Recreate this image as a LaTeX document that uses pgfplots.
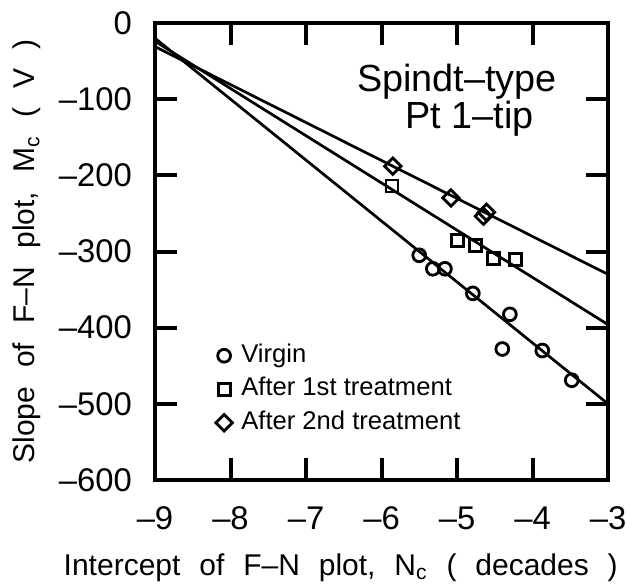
\documentclass[border=0pt]{standalone}
\usepackage{pgfplots}
\pgfplotsset{compat=1.18}
\usepackage{fontspec}
\setmainfont{Liberation Sans}
\newcommand\ws{\hspace{0.63em}}
\begin{document}
\begin{tikzpicture}
\begin{axis}[
  name=ax,
  scale only axis, width=226.5pt, height=228.5pt,
  xmin=-9, xmax=-3, ymin=-600, ymax=0,
  every axis/.append style={line width=2.4pt},
  axis line style={line width=2.4pt},
  xtick={-9,-8,-7,-6,-5,-4,-3},
  xticklabels={–9,–8,–7,–6,–5,–4,–3},
  ytick={-600,-500,-400,-300,-200,-100,0},
  yticklabels={–600,–500,–400,–300,–200,–100,0},
  tick align=inside, major tick length=11pt,
  tick style={line width=2pt, black},
  tick label style={font=\fontsize{16.4}{18}\selectfont},
  xticklabel style={yshift=-9pt},
  yticklabel style={xshift=-7pt},
  xlabel={Intercept\ws of\ws F–N\ws plot,\ws N\textsubscript{c}\ws(\ws decades\ws)},
  ylabel={Slope\ws of\ws F–N\ws plot,\ws M\textsubscript{c}\ws(\ws V\ws)},
  xlabel style={at={(axis description cs:0.41,-0.208)}, anchor=base, font=\fontsize{15}{17}\selectfont},
  ylabel style={at={(axis description cs:-0.265,0.5)}, anchor=base, font=\fontsize{15}{17}\selectfont},
  legend style={draw=none, fill=none, inner sep=0pt, at={(axis cs:-8.225,-413.6)}, anchor=north west,
    font=\fontsize{12.8}{15}\selectfont, row sep=1.45pt,
    nodes={inner sep=1.5pt, text height=9.5pt, text depth=2.8pt},
    /tikz/every odd column/.append style={column sep=3pt},
    /tikz/every even column/.append style={column sep=1.25pt}},
  legend cell align=left,
  legend image code/.code={\draw[mark repeat=2,mark phase=2,#1] plot coordinates {(0cm,0cm) (0.15cm,0cm) (0.3cm,0cm)};},
]
\addplot[line width=1.35pt, forget plot] coordinates {(-9,-20) (-3,-500)};
\addplot[line width=1.35pt, forget plot] coordinates {(-9,-24) (-3,-396)};
\addplot[line width=1.35pt, forget plot] coordinates {(-9,-31) (-3,-330)};
\addplot[only marks, mark=o, mark size=3.2pt, mark options={line width=1.4pt, fill=white}] coordinates {
  (-5.50,-305) (-5.32,-322.7) (-5.16,-322.7) (-4.79,-355) (-4.30,-382.5) (-4.40,-428) (-3.87,-430) (-3.48,-469)};
\addlegendentry{Virgin}
\addplot[only marks, mark=square, mark size=3.0pt, mark options={line width=1.4pt, fill=white}] coordinates {
  (-5.86,-214) (-4.99,-285.2) (-4.76,-291.7) (-4.52,-309.6) (-4.23,-310.5)};
\addlegendentry{After 1st treatment}
\addplot[only marks, mark=square, mark size=2.9pt, mark options={line width=1.4pt, fill=white, rotate=45}] coordinates {
  (-5.85,-188) (-5.08,-229.7) (-4.65,-253.7) (-4.61,-248.5)};
\addlegendentry{After 2nd treatment}
\node[font=\fontsize{18.9}{20}\selectfont] at (axis cs:-5.0,-77) {Spindt–type};
\node[font=\fontsize{18.9}{20}\selectfont] at (axis cs:-4.83,-126) {Pt 1–tip};
\end{axis}
\pgfresetboundingbox
\path[use as bounding box] ([shift={(-77.5pt,-53.5pt)}]ax.south west) rectangle ([shift={(9pt,11.5pt)}]ax.north east);
\end{tikzpicture}
\end{document}
